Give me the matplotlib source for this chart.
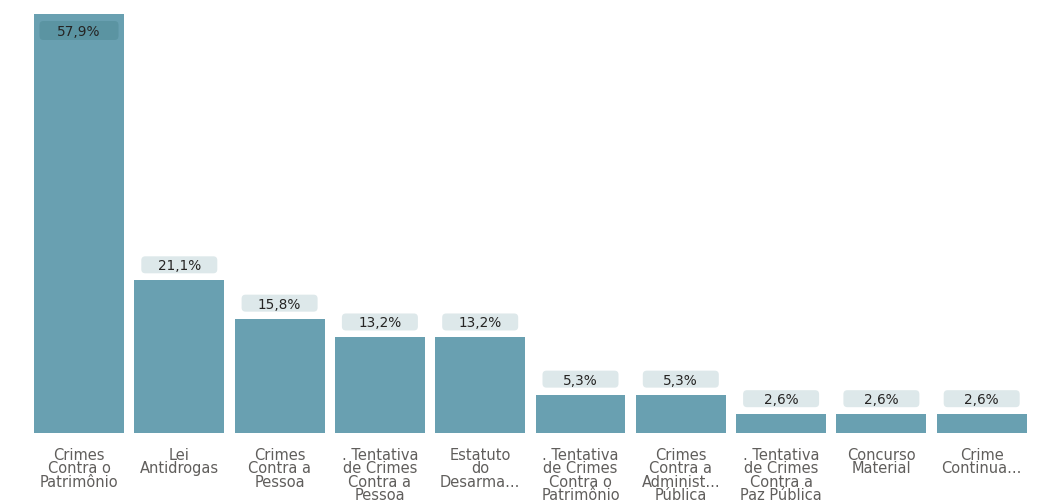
import matplotlib
matplotlib.use("Agg")
import matplotlib.pyplot as plt
from matplotlib.patches import FancyBboxPatch
from matplotlib.transforms import ScaledTranslation

categories = [
    "Crimes\nContra o\nPatrimônio",
    "Lei\nAntidrogas",
    "Crimes\nContra a\nPessoa",
    ". Tentativa\nde Crimes\nContra a\nPessoa",
    "Estatuto\ndo\nDesarma...",
    ". Tentativa\nde Crimes\nContra o\nPatrimônio",
    "Crimes\nContra a\nAdminist...\nPública",
    ". Tentativa\nde Crimes\nContra a\nPaz Pública",
    "Concurso\nMaterial",
    "Crime\nContinua...",
]
values = [57.9, 21.1, 15.8, 13.2, 13.2, 5.3, 5.3, 2.6, 2.6, 2.6]
labels = ["57,9%", "21,1%", "15,8%", "13,2%", "13,2%", "5,3%", "5,3%", "2,6%", "2,6%", "2,6%"]

plt.rcParams['font.family'] = ['DejaVu Sans']

DPI = 100
fig = plt.figure(figsize=(10.56, 5.04), dpi=DPI)
ax = fig.add_axes([28.85 / 1056, 71 / 504, 1003 / 1056, 419 / 504])

bar_color = "#69a0b1"
x = list(range(len(values)))
ax.bar(x, values, width=0.897, color=bar_color)
ax.set_xlim(-0.5, len(values) - 0.5)
ax.set_ylim(0, max(values))


def label_box(i, v, text, dy_px, w_px, h_px, fc):
    trans = fig.dpi_scale_trans + ScaledTranslation(i, v, ax.transData)
    w = w_px / DPI
    h = h_px / DPI
    cy = dy_px / DPI
    r = 4 / DPI
    patch = FancyBboxPatch((-w / 2 + r, cy - h / 2 + r), w - 2 * r, h - 2 * r,
                           boxstyle=f"round,pad={r},rounding_size={r}",
                           transform=trans, fc=fc, ec="none", clip_on=False, zorder=3)
    ax.add_patch(patch)
    ax.text(0, cy, text, transform=trans, ha="center", va="center_baseline",
            fontsize=9.8, color="#252423", zorder=4, clip_on=False)


for i, (v, lab) in enumerate(zip(values, labels)):
    if i == 0:
        label_box(i, v, lab, -16.5, 79, 19, "#5b94a2")
    else:
        label_box(i, v, lab, 15.5, 76, 17, "#dde8ea")

ax.set_xticks(x)
ax.set_xticklabels(categories, fontsize=10.5, color="#605e5c", linespacing=0.85)
ax.tick_params(axis="x", length=0, pad=11)
ax.set_yticks([])
for s in ax.spines.values():
    s.set_visible(False)

fig.savefig("out.png", dpi=DPI)
